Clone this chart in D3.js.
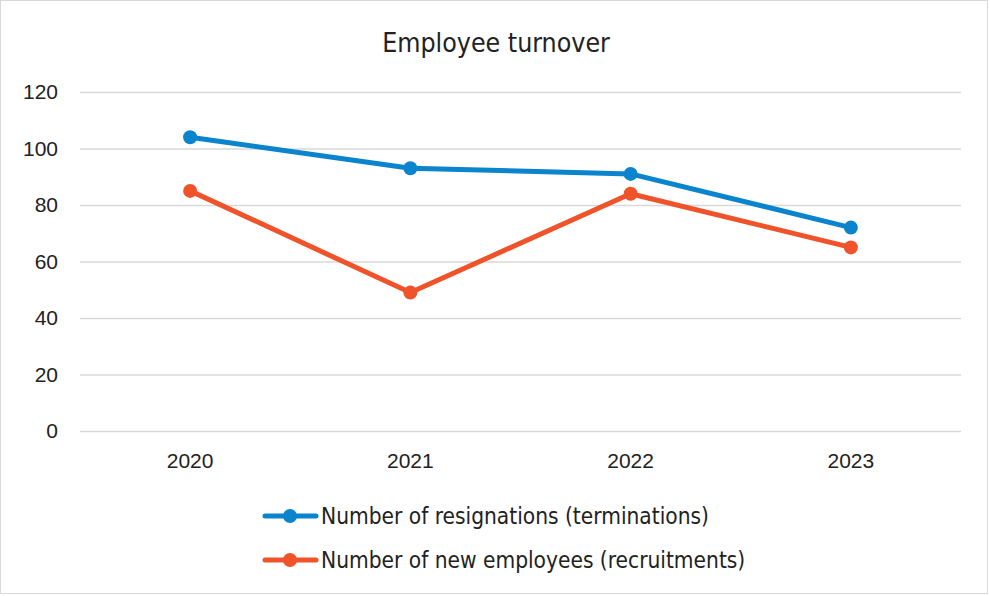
<!DOCTYPE html>
<html>
<head>
<meta charset="utf-8">
<script src="https://cdn.jsdelivr.net/npm/d3@7"></script>
<style>
  body { margin: 0; background: #fff; }
  svg { font-family: "Liberation Sans Narrow", "DejaVu Sans Condensed", sans-serif; }
</style>
</head>
<body>
<div id="chart"></div>
<script>
const years = ['2020', '2021', '2022', '2023'];
const resignations = [104, 93, 91, 72];
const recruitments = [85, 49, 84, 65];
const seriesNames = ['Number of resignations (terminations)', 'Number of new employees (recruitments)'];
const seriesColors = ['#0a84cd', '#f0522a'];
const yTicks = [0, 20, 40, 60, 80, 100, 120];

const width = 990, height = 596;
const margin = {top: 92, right: 29, bottom: 165, left: 80};

const svg = d3.select('#chart').append('svg')
  .attr('width', width).attr('height', height);

svg.append('rect')
  .attr('x', 0.5).attr('y', 0.5)
  .attr('width', width - 3).attr('height', height - 3)
  .attr('fill', '#fff').attr('stroke', '#d9d9d9');

// title
svg.append('text')
  .attr('x', 496).attr('y', 52)
  .attr('text-anchor', 'middle')
  .attr('font-size', 26.5)
  .attr('fill', '#222')
  .text('Employee turnover');

const x = d3.scaleBand().domain(years)
  .range([margin.left, width - margin.right]);
const y = d3.scaleLinear().domain([0, 120])
  .range([height - margin.bottom, margin.top]);

// grid
const yAxis = d3.axisLeft(y).tickValues(yTicks)
  .tickSize(-(width - margin.left - margin.right)).tickPadding(22);
const gy = svg.append('g')
  .attr('transform', 'translate(' + margin.left + ',0)')
  .call(yAxis);
gy.select('.domain').remove();
gy.selectAll('.tick line').attr('stroke', '#d9d9d9').attr('stroke-width', 1.5);
gy.selectAll('.tick text').attr('font-size', 21).attr('fill', '#222')
  .attr('font-family', 'inherit');

// x axis labels
const xAxis = d3.axisBottom(x).tickSize(0).tickPadding(22);
const gx = svg.append('g')
  .attr('transform', 'translate(0,' + (height - margin.bottom) + ')')
  .call(xAxis);
gx.select('.domain').remove();
gx.selectAll('.tick text').attr('font-size', 21).attr('fill', '#222')
  .attr('font-family', 'inherit');

const cx = (d) => x(d) + x.bandwidth() / 2;
const allSeries = [resignations, recruitments];

allSeries.forEach((vals, s) => {
  const line = d3.line().x((d, i) => cx(years[i])).y((d) => y(d));
  svg.append('path')
    .datum(vals)
    .attr('d', line)
    .attr('fill', 'none')
    .attr('stroke', seriesColors[s])
    .attr('stroke-width', 5)
    .attr('stroke-linejoin', 'round')
    .attr('stroke-linecap', 'round');
  svg.selectAll('.dot' + s).data(vals).enter()
    .append('circle')
    .attr('cx', (d, i) => cx(years[i]))
    .attr('cy', (d) => y(d))
    .attr('r', 7)
    .attr('fill', seriesColors[s]);
});

// legend
const legend = svg.append('g');
seriesNames.forEach((name, s) => {
  const ly = 516 + s * 44;
  legend.append('line')
    .attr('x1', 265).attr('x2', 316)
    .attr('y1', ly).attr('y2', ly)
    .attr('stroke', seriesColors[s]).attr('stroke-width', 5)
    .attr('stroke-linecap', 'round');
  legend.append('circle')
    .attr('cx', 290).attr('cy', ly).attr('r', 7)
    .attr('fill', seriesColors[s]);
  legend.append('text')
    .attr('x', 321).attr('y', ly + 8)
    .attr('font-size', 22.5)
    .attr('fill', '#222')
    .text(name);
});
</script>
</body>
</html>
